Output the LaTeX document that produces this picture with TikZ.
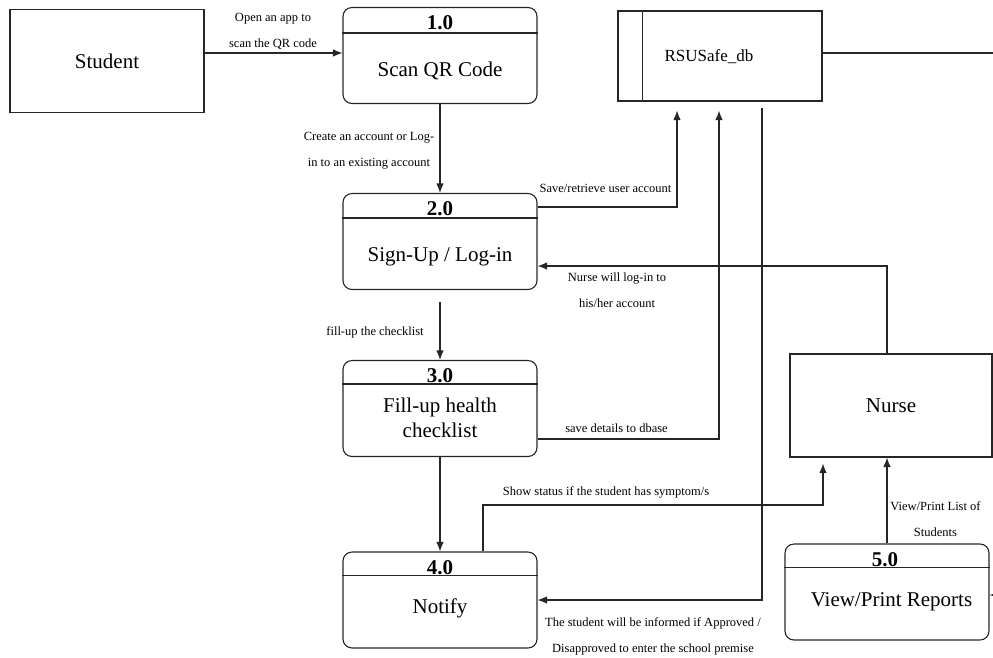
\documentclass[tikz,border=0pt]{standalone}
\usepackage{fontspec}
\setmainfont{Liberation Serif}
\usetikzlibrary{calc,arrows.meta}

\begin{document}
\begin{tikzpicture}[x=1pt,y=-1pt,>={Latex[length=9.5pt,width=7.5pt]},line width=1.1pt,draw=black!85,
    ent/.style={draw,minimum width=194pt,minimum height=103pt,font=\fontsize{21}{25}\selectfont},
    proc/.style={draw,rounded corners=9pt,minimum width=194pt,minimum height=96pt},
    pnum/.style={font=\fontsize{21}{25}\selectfont\bfseries,inner sep=0pt},
    ptext/.style={font=\fontsize{21}{25}\selectfont,align=center,inner sep=0pt},
    lbl/.style={font=\fontsize{12.5}{26}\selectfont,align=center,inner sep=0pt}]
    \useasboundingbox (0,0) rectangle (993,657);

    % external entities
    \node[ent] (st) at (107,61) {Student};
    \node[ent,minimum width=202pt] (nu) at (891,405.5) {Nurse};

    % data store
    \node[draw,minimum width=204pt,minimum height=90pt] (db) at (720,56) {};
    \draw ($(db.north west)+(25,0)$) -- ($(db.south west)+(25,0)$);
    \node[font=\fontsize{17}{20}\selectfont,inner sep=0pt] (dbt) at (709,57) {RSUSafe\_db};

    % processes
    \node[proc] (p1) at (440,55.5) {};
    \node[pnum] (p1n) at (440,23) {1.0};
    \draw ($(p1.north west)+(0,26)$) -- ($(p1.north east)+(0,26)$);
    \node[ptext] (p1t) at (440,71) {Scan QR Code};

    \node[proc] (p2) at (440,241.5) {};
    \node[pnum] (p2n) at (440,209) {2.0};
    \draw ($(p2.north west)+(0,25)$) -- ($(p2.north east)+(0,25)$);
    \node[ptext] (p2t) at (440,257) {Sign-Up / Log-in};

    \node[proc] (p3) at (440,408.5) {};
    \node[pnum] (p3n) at (440,376) {3.0};
    \draw ($(p3.north west)+(0,24)$) -- ($(p3.north east)+(0,24)$);
    \node[ptext] (p3t) at (440,418) {Fill-up health\\checklist};

    \node[proc] (p4) at (440,600) {};
    \node[pnum] (p4n) at (440,568) {4.0};
    \draw ($(p4.north west)+(0,24)$) -- ($(p4.north east)+(0,24)$);
    \node[ptext] (p4t) at (440,608) {Notify};

    \node[proc,minimum width=204pt] (p5) at (887,592) {};
    \node[pnum] (p5n) at (885,560) {5.0};
    \draw ($(p5.north west)+(0,24)$) -- ($(p5.north east)+(0,24)$);
    \node[ptext] (p5t) at (891.5,602) {View/Print Reports};

    % flows
    \draw[->] (st.east |- 0,53) -- (p1.west |- 0,53);
    \node[lbl] (l1) at (273,31.5) {Open an app to\\scan the QR code};

    \draw[->] (p1) -- (p2);
    \node[lbl] (l2) at (369,150.5) {Create an account or Log-\\in to an existing account};

    \draw[->,shorten >=9pt] (p2.east |- 0,207) -| (db.south -| 677,0);
    \node[lbl] (l3) at (605.5,188) {Save/retrieve user account};

    \draw[->,shorten <=12pt] (p2) -- (p3);
    \node[lbl] (l4) at (375,332) {fill-up the checklist};

    \draw[->,shorten >=9pt] (p3.east |- 0,439) -| (db.south -| 719,0);
    \node[lbl] (l5) at (616.5,428) {save details to dbase};

    \draw[->] (p3) -- (p4);

    \draw[->,shorten >=6pt] (p4.north -| 483,0) |- (823,505) -- (nu.south -| 823,0);
    \node[lbl] (l6) at (606,492) {Show status if the student has symptom/s};

    \draw[->] (nu.north -| 887,0) |- (p2.east |- 0,266);
    \node[lbl] (l7) at (617,290.5) {Nurse will log-in to\\his/her account};

    \draw[->,shorten <=6pt] (db.south -| 762,0) |- (p4.east |- 0,600);
    \node[lbl] (l8) at (653,636) {The student will be informed if Approved /\\Disapproved to enter the school premise};

    \draw[->] (p5.north -| 887,0) -- (nu.south -| 887,0);
    \node[lbl] (l9) at (935.5,519) {View/Print List of\\Students};

    \coordinate (rin) at (993,595);
    \draw[->] (rin) -- (p5.east |- rin);
    \coordinate (rout) at (993,53);
    \draw (db.east |- rout) -- (rout);
\end{tikzpicture}
\end{document}
